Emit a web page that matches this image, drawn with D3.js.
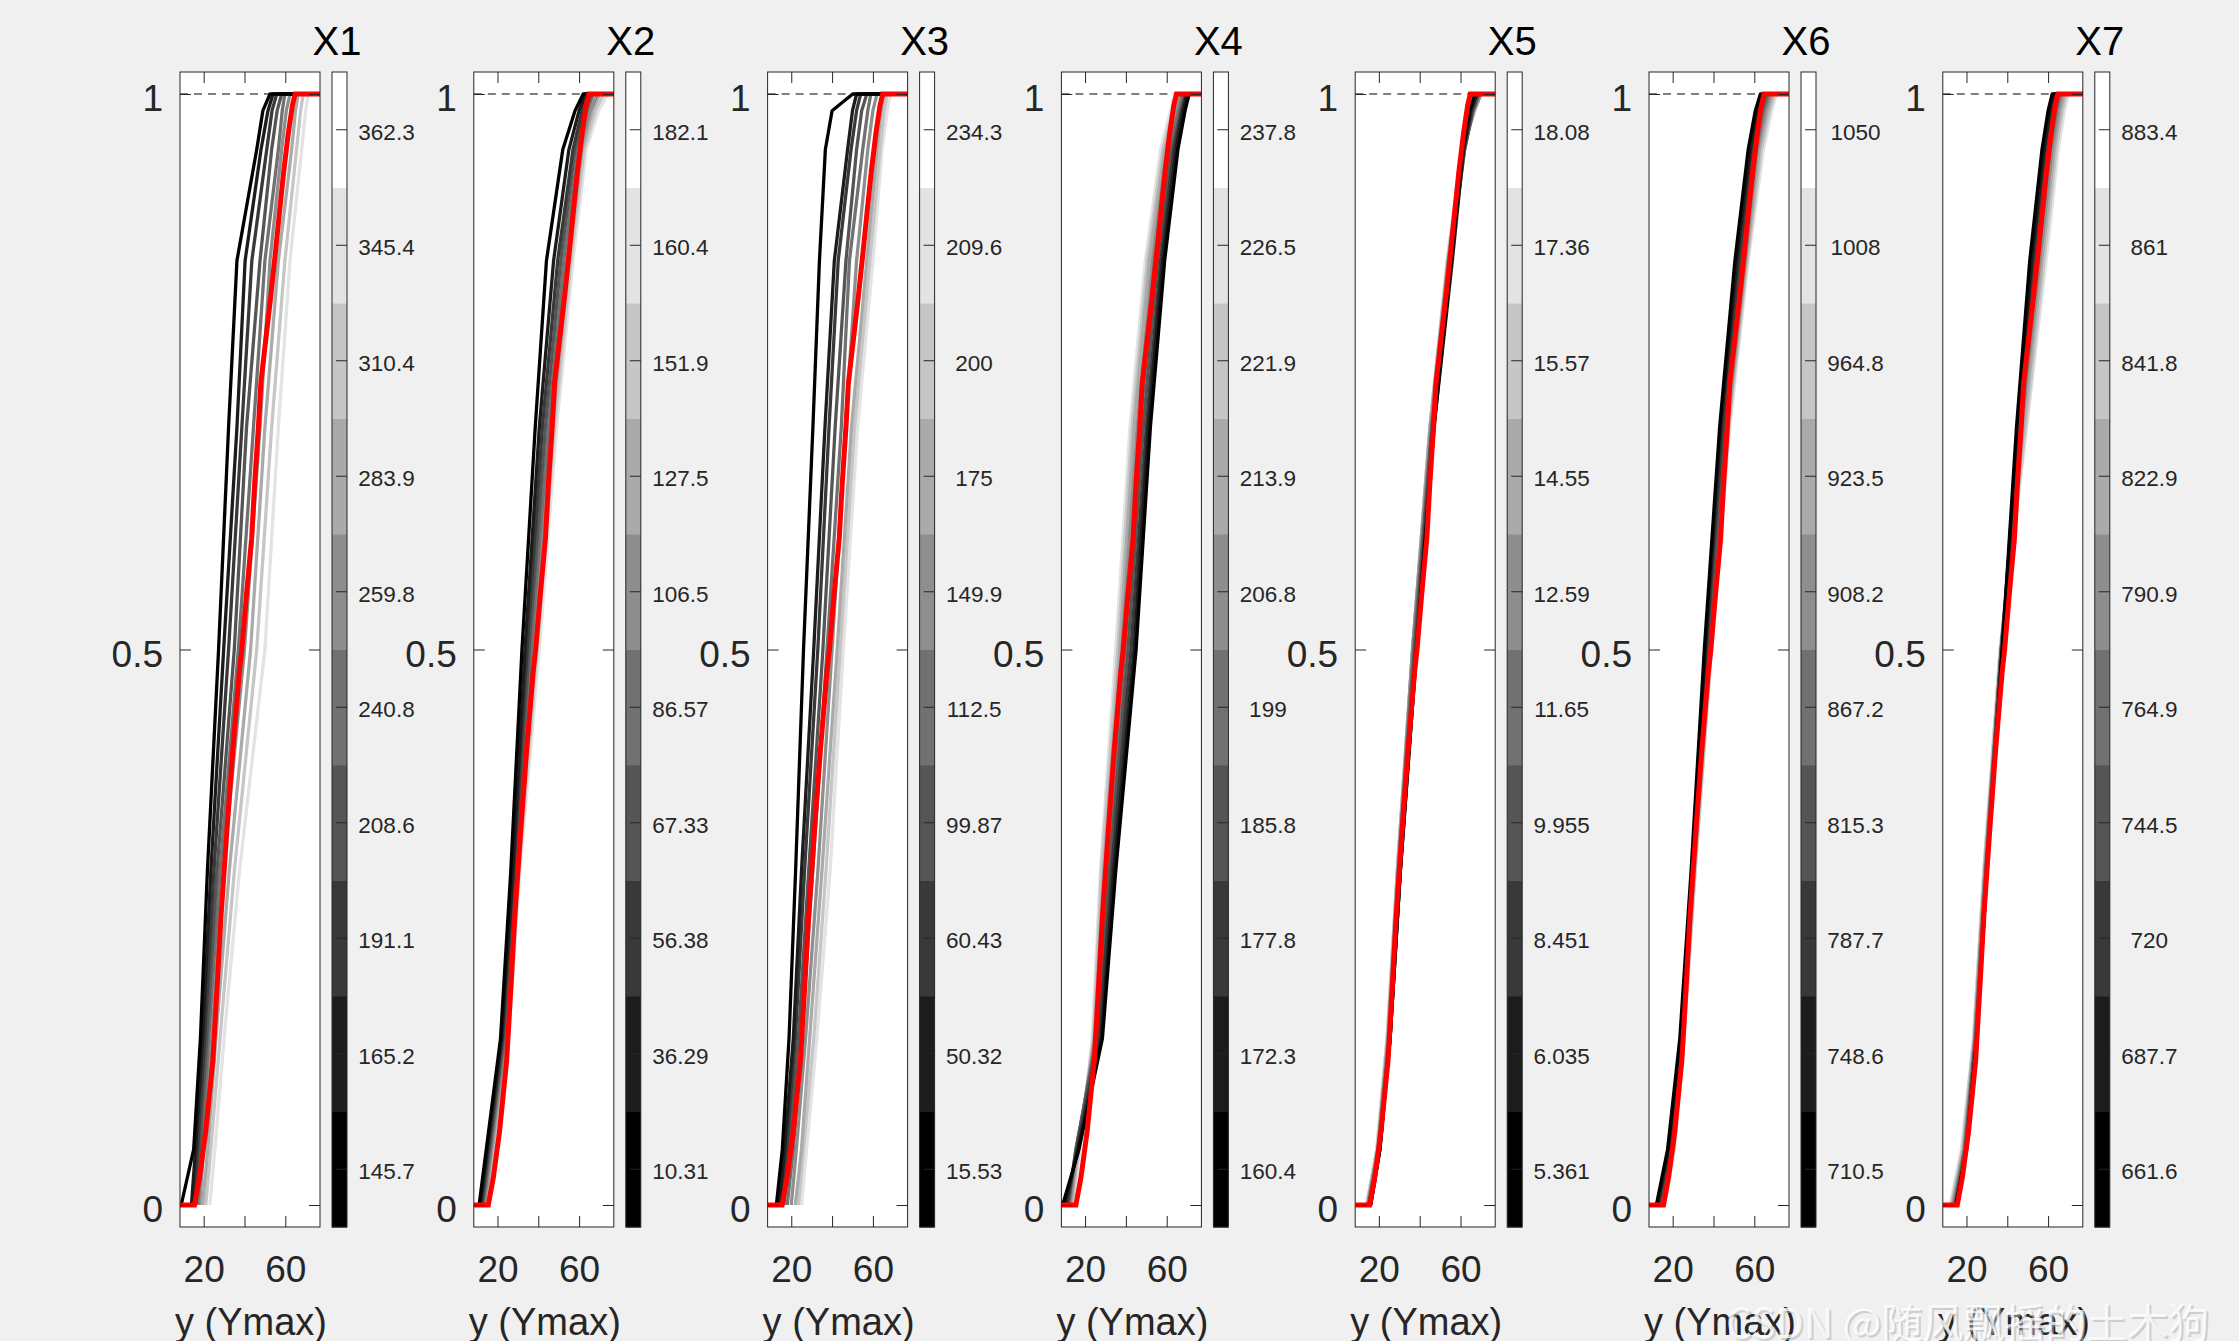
<!DOCTYPE html>
<html><head><meta charset="utf-8">
<script src="https://cdn.jsdelivr.net/npm/d3@7"></script>
<style>body{margin:0;background:#f0f0f0;} svg{display:block;}</style>
</head><body>
<svg id="c" width="2239" height="1341"></svg>
<script>
// ---------- DATA ----------
const titles = ["X1", "X2", "X3", "X4", "X5", "X6", "X7"];
// colorbar tick labels, listed top -> bottom
const cbLabelsX1 = ["362.3","345.4","310.4","283.9","259.8","240.8","208.6","191.1","165.2","145.7"];
const cbLabelsX2 = ["182.1","160.4","151.9","127.5","106.5","86.57","67.33","56.38","36.29","10.31"];
const cbLabelsX3 = ["234.3","209.6","200","175","149.9","112.5","99.87","60.43","50.32","15.53"];
const cbLabelsX4 = ["237.8","226.5","221.9","213.9","206.8","199","185.8","177.8","172.3","160.4"];
const cbLabelsX5 = ["18.08","17.36","15.57","14.55","12.59","11.65","9.955","8.451","6.035","5.361"];
const cbLabelsX6 = ["1050","1008","964.8","923.5","908.2","867.2","815.3","787.7","748.6","710.5"];
const cbLabelsX7 = ["883.4","861","841.8","822.9","790.9","764.9","744.5","720","687.7","661.6"];
const cbLabels = [cbLabelsX1, cbLabelsX2, cbLabelsX3, cbLabelsX4, cbLabelsX5, cbLabelsX6, cbLabelsX7];

const xTicks = [20, 40, 60];
const xTickLabels = ["20", "", "60"];
const yTicks = [0, 0.5, 1];
const yTickLabels = ["0", "0.5", "1"];
const xLabel = "y (Ymax)";

// overall CDF (red)
const redX = [15.5, 18, 21, 24.5, 26.7, 28.5, 31.5, 34.3, 37.5, 38.7, 41, 43.5, 45, 46.8, 48, 50.5, 53, 55.3, 57.5, 59.2, 61.5, 63.5, 64.8];
const redP = [0, 0.025, 0.066, 0.13, 0.2, 0.26, 0.34, 0.41, 0.48, 0.5, 0.55, 0.6, 0.65, 0.7, 0.74, 0.78, 0.82, 0.86, 0.9, 0.93, 0.965, 0.99, 1];

// conditional CDFs: x value at each probability level P, one row per colour level (0 = black ... 9 = white)
const P = [0, 0.05, 0.15, 0.3, 0.5, 0.7, 0.85, 0.95, 0.985, 1];
const curvesX1 = [
  [9.0, 15.1, 18.4, 21.8, 27.3, 32.2, 36.3, 46, 49, 52.5],
  [14, 16, 19.5, 23.5, 29.8, 36.3, 40.3, 48.1, 51.5, 54],
  [15, 17, 20.5, 25, 32.2, 38.7, 43.6, 50.9, 53.5, 55.8],
  [16, 18, 21.5, 26.5, 35, 41, 47.6, 53.3, 56, 58.2],
  [17, 19, 22.5, 28, 37, 44.4, 50, 56.6, 58.5, 59.8],
  [18, 20, 24, 29.5, 40, 47.6, 52.5, 58.2, 60.5, 62.3],
  [19.5, 22, 26, 32.5, 43, 50, 56.6, 63.1, 65, 66.3],
  [21, 23.5, 28, 35, 46, 53.3, 59.8, 65.5, 67.5, 68.8],
  [23, 25.5, 30, 37.5, 50, 56.6, 62.3, 68, 70, 71.2],
  [25, 27, 32, 39.5, 52, 58.5, 64, 69.5, 71.5, 73]
];
const curvesX2 = [
  [11, 14.5, 21.5, 26.5, 32, 38.5, 44, 52, 58, 62],
  [11.5, 15, 22, 27.5, 33.5, 40.5, 47.5, 55, 60, 63],
  [12, 15.5, 22.5, 28, 34.5, 42, 49.5, 57, 61.5, 64],
  [12.5, 16, 23, 28.5, 35.5, 43.5, 51, 58, 63, 66],
  [13, 16.5, 23.5, 29, 36.5, 45, 52.5, 59.5, 64, 67],
  [13.5, 17, 24, 29.5, 37.5, 46, 54, 60.5, 65.5, 69],
  [14, 17.5, 24.5, 30, 38.5, 47, 55, 61.5, 66.5, 70],
  [14.5, 18, 25, 30.5, 39.5, 48, 56, 62.5, 68, 72],
  [15, 18.5, 25.5, 31, 40.5, 49, 57, 63.5, 69.5, 74],
  [15.5, 19, 26, 31.5, 41.5, 50, 58, 64.5, 70.5, 75]
];
const curvesX3 = [
  [12.7, 15.6, 18.9, 22.1, 26, 30.6, 33.8, 36.7, 40, 50.1],
  [14, 16.7, 21, 25, 31, 36.5, 41.1, 47.6, 50, 52],
  [14.8, 17.7, 22, 26.5, 33, 38.5, 43, 49.3, 52, 54],
  [16.4, 18.9, 23.5, 28.5, 35.5, 41.5, 46.8, 52, 54.5, 57],
  [18, 21, 25, 30.5, 37.5, 44.5, 48.5, 55, 57.5, 59],
  [20, 22.5, 27, 33, 40, 46.5, 52, 57.5, 60, 62],
  [22, 25, 29, 35, 42.5, 49.5, 57, 62, 64, 65.5],
  [23.5, 26, 31, 37, 44, 51, 58.5, 63.5, 65.5, 67],
  [25, 27.5, 32.5, 39, 45.5, 52.5, 60, 64.5, 67, 68.5],
  [26.5, 29, 34, 40.5, 47, 54, 61.5, 66, 68, 70]
];
const curvesX4 = [
  [9, 17, 28.5, 35, 45, 52, 59, 65.5, 69, 71],
  [10, 16.5, 28, 34, 44, 51, 58, 64.5, 68, 70],
  [11, 16, 27, 33, 42.5, 50, 57, 63.5, 67.5, 69.5],
  [11.5, 15.5, 26, 32, 41, 48.5, 55.5, 62.5, 67, 69],
  [12, 15.5, 25.5, 31, 39.5, 47, 54, 61, 66, 68],
  [12.5, 16, 25, 30, 38, 45.5, 53, 60, 65, 67],
  [13, 16.5, 24.5, 29, 37, 44, 51.5, 59, 64, 66],
  [13.5, 17, 24, 28, 36, 43, 50.5, 58, 63, 65],
  [14, 17.5, 23.5, 27.5, 35, 42, 49.5, 57, 62, 64],
  [14.5, 18, 23, 27, 34, 41, 48.5, 56, 61, 63]
];
const curvesX5 = [
  [16, 20.5, 25.5, 30.5, 38.5, 47, 55.5, 61, 64.5, 67],
  [16, 20.5, 25.5, 30.5, 38.5, 47, 56, 61.5, 65, 68],
  [15.5, 20.5, 25.5, 30.5, 38, 46.5, 55.5, 61.5, 65.5, 68],
  [15, 20, 25, 30, 37.5, 46, 55, 62, 66, 69],
  [15, 20, 25, 29.5, 37, 46, 54.5, 62, 66, 69],
  [14.5, 19.5, 24.5, 29.5, 36.5, 45.5, 54, 61.5, 66.5, 70],
  [14.5, 19.5, 24.5, 29, 36.5, 45, 54, 61, 66.5, 70],
  [14, 19, 24, 29, 36.5, 45, 53.5, 61, 67, 70],
  [14, 19, 24, 29, 36.5, 45, 53.5, 60.5, 67, 70],
  [14, 19, 24, 29, 36.5, 45, 53.5, 60.5, 67, 70]
];
const curvesX6 = [
  [12, 17.5, 23.5, 29, 35.5, 43, 50.5, 57, 60.5, 63],
  [12.5, 18, 24, 29.5, 36, 43.5, 51.5, 58, 61.5, 64],
  [13, 18.5, 24, 29.5, 36.5, 44.5, 52.5, 59, 62.5, 65],
  [13.5, 19, 24.5, 30, 37, 45.5, 53.5, 60, 63.5, 66],
  [14, 19.5, 24.5, 30, 37.5, 46, 54.5, 61, 64.5, 67],
  [14.5, 20, 25, 30.5, 38, 46.5, 55.5, 61.5, 65.5, 68],
  [15, 20.5, 25, 30.5, 38.5, 47, 56, 62.5, 66.5, 69],
  [15.5, 20.5, 25.5, 31, 39, 47.5, 56.5, 63.5, 67.5, 70],
  [16, 21, 25.5, 31, 39, 48, 57, 64.5, 68.5, 71],
  [16.5, 21, 26, 31.5, 39.5, 48.5, 57.5, 65.5, 69.5, 72]
];
const curvesX7 = [
  [15, 20, 25, 30, 37.5, 44.5, 51, 57, 60, 62],
  [15, 20, 25, 30, 37.5, 45, 52, 58, 61, 63],
  [14.5, 20, 25, 30, 37.5, 45.5, 53, 59, 62, 64],
  [14.5, 19.5, 24.5, 29.5, 37, 46, 54, 60, 63, 65],
  [14, 19, 24.5, 29.5, 37, 46.5, 55, 61, 64, 66],
  [13.5, 19, 24, 29, 37, 47, 56, 62, 65, 67],
  [13, 18.5, 24, 29, 37, 48, 57, 63, 66, 68],
  [12.5, 18, 23.5, 28.5, 36.5, 49, 58, 64, 67, 69],
  [12, 17.5, 23.5, 28.5, 36.5, 49.5, 59, 65, 68, 70],
  [12, 17.5, 23, 28, 36, 49.5, 59, 65, 68.5, 71]
];
const panelCurves = [curvesX1, curvesX2, curvesX3, curvesX4, curvesX5, curvesX6, curvesX7];

const watermark = "CSDN @随风飘摇的土木狗";

// ---------- DRAW ----------
const svg = d3.select("#c");
svg.append("rect").attr("width", 2239).attr("height", 1341).attr("fill", "#f0f0f0");
const font = "'Liberation Sans', Arial, Helvetica, sans-serif";
const axW = 140, axTop = 72, axBot = 1227, step = 293.8, left0 = 180;
const xDom = [8.4, 77];
const y = d3.scaleLinear().domain([-0.0198, 1.0198]).range([axBot, axTop]);
const levelScale = d3.scaleLinear().domain([0, 9]).range([0, 255]);
const levelColor = k => { const v = Math.round(levelScale(k)); return d3.rgb(v, v, v).formatHex(); };
const axisColor = "#262626";

titles.forEach((title, i) => {
  const L = left0 + i * step;
  const x = d3.scaleLinear().domain(xDom).range([L, L + axW]);
  const g = svg.append("g");
  const clipId = "clip" + i;
  svg.append("clipPath").attr("id", clipId).append("rect")
    .attr("x", L).attr("y", axTop).attr("width", axW).attr("height", axBot - axTop);

  g.append("rect").attr("x", L).attr("y", axTop).attr("width", axW).attr("height", axBot - axTop).attr("fill", "#fff");

  const plot = g.append("g").attr("clip-path", `url(#${clipId})`);
  plot.append("line").attr("x1", x(xDom[0])).attr("x2", x(xDom[1])).attr("y1", y(1)).attr("y2", y(1))
    .attr("stroke", "#000").attr("stroke-width", 1).attr("stroke-dasharray", "8,6");

  const line = d3.line().x(d => x(d[0])).y(d => y(d[1]));
  const curves = panelCurves[i];
  for (let k = curves.length - 1; k >= 0; k--) {
    const pts = P.map((p, j) => [curves[k][j], p]);
    pts.push([xDom[1], 1]);
    plot.append("path").attr("d", line(pts)).attr("fill", "none")
      .attr("stroke", levelColor(k)).attr("stroke-width", 3.3).attr("stroke-linejoin", "round");
  }
  const redPts = [[xDom[0], 0]].concat(redX.map((v, j) => [v, redP[j]])).concat([[xDom[1], 1]]);
  plot.append("path").attr("d", line(redPts)).attr("fill", "none")
    .attr("stroke", "#ff0000").attr("stroke-width", 5).attr("stroke-linejoin", "miter");

  // axes
  const styleAxis = s => {
    s.attr("font-family", font).attr("font-size", 37);
    s.select(".domain").remove();
    s.selectAll(".tick line").attr("stroke", axisColor).attr("stroke-width", 1);
    s.selectAll(".tick text").attr("fill", axisColor);
  };
  g.append("g").attr("transform", `translate(0,${axBot})`)
    .call(d3.axisBottom(x).tickValues(xTicks).tickSize(-11).tickPadding(29).tickFormat((d, j) => xTickLabels[j]))
    .call(styleAxis);
  g.append("g").attr("transform", `translate(0,${axTop})`)
    .call(d3.axisTop(x).tickValues(xTicks).tickSize(-11).tickFormat(""))
    .call(styleAxis);
  g.append("g").attr("transform", `translate(${L},0)`)
    .call(d3.axisLeft(y).tickValues(yTicks).tickSize(-11).tickPadding(17).tickFormat((d, j) => yTickLabels[j]))
    .call(styleAxis)
    .call(s => s.selectAll(".tick text").attr("dy", "0.45em"));
  g.append("g").attr("transform", `translate(${L + axW},0)`)
    .call(d3.axisRight(y).tickValues(yTicks).tickSize(-11).tickFormat(""))
    .call(styleAxis);
  g.append("rect").attr("x", L).attr("y", axTop).attr("width", axW).attr("height", axBot - axTop)
    .attr("fill", "none").attr("stroke", axisColor).attr("stroke-width", 1);

  // title & x label
  g.append("text").attr("x", L + 157).attr("y", 55).attr("text-anchor", "middle")
    .attr("font-family", font).attr("font-size", 40).attr("fill", "#000").text(title);
  g.append("text").attr("x", L + 71).attr("y", 1335).attr("text-anchor", "middle")
    .attr("font-family", font).attr("font-size", 38).attr("fill", axisColor).text(xLabel);

  // colorbar
  const cbL = L + 152, cbW = 15;
  const band = d3.scaleBand().domain(d3.range(10)).range([axBot, axTop]);
  const labels = cbLabels[i];
  g.append("g").selectAll("rect").data(d3.range(10)).join("rect")
    .attr("x", cbL).attr("y", k => band(k)).attr("width", cbW).attr("height", band.bandwidth() + 0.5)
    .attr("fill", k => levelColor(k));
  g.append("g").attr("transform", `translate(${cbL + cbW},0)`)
    .call(d3.axisRight(band).tickSize(-11).tickPadding(39.5).tickFormat(k => labels[9 - k]))
    .call(s => {
      s.attr("font-family", font).attr("font-size", 22.5);
      s.select(".domain").remove();
      s.selectAll(".tick line").attr("stroke", axisColor);
      s.selectAll(".tick text").attr("fill", axisColor).attr("text-anchor", "middle").attr("dy", "0.44em");
    });
  g.append("rect").attr("x", cbL).attr("y", axTop).attr("width", cbW).attr("height", axBot - axTop)
    .attr("fill", "none").attr("stroke", axisColor).attr("stroke-width", 1);
});

// watermark
const wmFont = "'Noto Sans CJK SC', 'Noto Sans', sans-serif";
svg.append("text").attr("x", 1728).attr("y", 1340).attr("font-family", wmFont).attr("font-size", 41)
  .attr("fill", "#b0b0b0").attr("fill-opacity", 0.55).text(watermark);
svg.append("text").attr("x", 1726).attr("y", 1338).attr("font-family", wmFont).attr("font-size", 41)
  .attr("fill", "#ffffff").attr("fill-opacity", 0.8).text(watermark);
</script>
</body></html>
